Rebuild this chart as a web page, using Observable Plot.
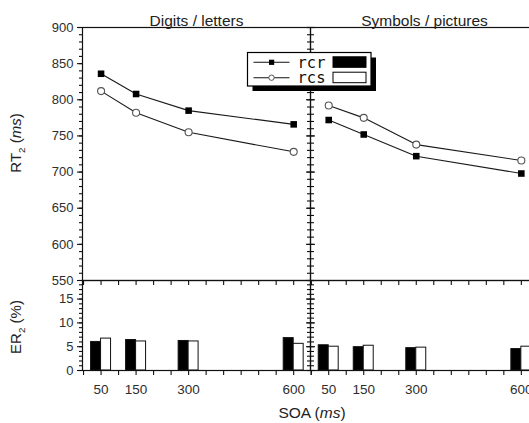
<!DOCTYPE html>
<html><head><meta charset="utf-8">
<script src="https://cdn.jsdelivr.net/npm/d3@7"></script>
<script src="https://cdn.jsdelivr.net/npm/@observablehq/plot@0.6"></script>
<style>
html,body{margin:0;padding:0;background:#fff;overflow:hidden;}
#chart{position:relative;width:529px;height:423px;overflow:hidden;background:#fff;}
</style></head><body><div id="chart"></div>
<script>
// ---- data ----
const panels = ["Digits / letters", "Symbols / pictures"];
const conditions = ["rcr", "rcs"];
const soa = [50, 150, 300, 600];
const rtDigitsRcr = [836, 808, 785, 766];
const rtDigitsRcs = [812, 782, 755, 728];
const rtSymbolsRcr = [772, 752, 722, 698];
const rtSymbolsRcs = [792, 775, 738, 716];
const erDigitsRcr = [6.0, 6.4, 6.2, 6.8];
const erDigitsRcs = [6.7, 6.1, 6.1, 5.6];
const erSymbolsRcr = [5.3, 4.9, 4.7, 4.5];
const erSymbolsRcs = [5.0, 5.2, 4.8, 5.0];
const rtTicks = [550, 600, 650, 700, 750, 800, 850, 900];
const erTicks = [0, 5, 10, 15];
const soaTicks = [50, 150, 300, 600];

// ---- layout / style ----
const chart = document.getElementById("chart");
const FONT = "'Liberation Sans', Arial, Helvetica, sans-serif";
const PANEL_W = 228;
const xDomains = [[-3, 648], [-2, 649]];
const barMs = 28.5;
const rtMinor = d3.range(550, 901, 10);
const erMinor = d3.range(0, 19, 1);
const xMinor = d3.range(0, 651, 50);
const INK = "#111";
const LABEL = "#2e2e2e";

function rowsFor(i) {
  const rtR = i === 0 ? rtDigitsRcr : rtSymbolsRcr;
  const rtS = i === 0 ? rtDigitsRcs : rtSymbolsRcs;
  const erR = i === 0 ? erDigitsRcr : erSymbolsRcr;
  const erS = i === 0 ? erDigitsRcs : erSymbolsRcs;
  return soa.flatMap((s, j) => [
    {soa: s, cond: conditions[0], rt: rtR[j], er: erR[j]},
    {soa: s, cond: conditions[1], rt: rtS[j], er: erS[j]}
  ]);
}
function place(svg, left, top) {
  svg.style.position = "absolute";
  svg.style.left = left + "px";
  svg.style.top = top + "px";
  svg.style.maxWidth = "none";
  chart.appendChild(svg);
}
const baseStyle = {background: "transparent", overflow: "visible", fontFamily: FONT, color: INK};

function yAxes(isLeft, major, minor) {
  const tick = (anchor, ticks, size) =>
    Plot.axisY({anchor, ticks, tickSize: size, label: null, stroke: INK, strokeWidth: 1.1, fill: "none"});
  return isLeft ? [
    Plot.axisY({anchor: "left", ticks: major, tickSize: 5, tickPadding: 4, fontSize: 13, label: null, stroke: INK, strokeWidth: 1.1, fill: LABEL}),
    tick("left", minor, 3),
    tick("right", major, 4),
    tick("right", minor, 3)
  ] : [
    tick("left", major, 4),
    tick("left", minor, 3)
  ];
}

panels.forEach((p, i) => {
  const isLeft = i === 0;
  const ml = isLeft ? 82 : 20, mr = isLeft ? 2 : 12;
  const width = ml + PANEL_W + mr;
  const left = isLeft ? 0 : 310 - ml;
  const rows = rowsFor(i);
  const rcr = rows.filter(d => d.cond === conditions[0]);
  const rcs = rows.filter(d => d.cond === conditions[1]);

  const topPlot = Plot.plot({
    width, height: 285,
    marginLeft: ml, marginRight: mr, marginTop: 27, marginBottom: 5,
    x: {domain: xDomains[i]},
    y: {domain: [550, 900]},
    style: baseStyle,
    marks: [
      Plot.frame({stroke: INK, strokeWidth: 1.2}),
      ...yAxes(isLeft, rtTicks, rtMinor),
      Plot.axisX({anchor: "bottom", ticks: xMinor, tickSize: 5, label: null, stroke: INK, strokeWidth: 1.1, fill: "none"}),
      Plot.lineY(rows, {x: "soa", y: "rt", z: "cond", stroke: "#1a1a1a", strokeWidth: 1.1}),
      Plot.dot(rcr, {x: "soa", y: "rt", symbol: "square", r: 3.7, fill: "#000", stroke: "none"}),
      Plot.dot(rcs, {x: "soa", y: "rt", symbol: "circle", r: 3.5, fill: "#fff", stroke: "#555", strokeWidth: 1.1}),
      Plot.text([p], {text: d => d, frameAnchor: "top", lineAnchor: "bottom", dy: -2, fontSize: 15.5, fill: "#222"})
    ]
  });
  place(topPlot, left, 0);

  const botPlot = Plot.plot({
    width, height: 148,
    marginLeft: ml, marginRight: mr, marginTop: 5, marginBottom: 53,
    x: {domain: xDomains[i]},
    y: {domain: [0, 18.9]},
    style: baseStyle,
    marks: [
      Plot.rectY(rcr, {x1: d => d.soa - barMs, x2: "soa", y1: 0, y2: "er", fill: "#000", stroke: INK, strokeWidth: 1}),
      Plot.rectY(rcs, {x1: "soa", x2: d => d.soa + barMs, y1: 0, y2: "er", fill: "#fff", stroke: INK, strokeWidth: 1}),
      Plot.frame({stroke: INK, strokeWidth: 1.2}),
      ...yAxes(isLeft, erTicks, erMinor),
      Plot.axisX({anchor: "bottom", ticks: xMinor, tickSize: 5, label: null, stroke: INK, strokeWidth: 1.1, fill: "none"}),
      Plot.axisX({anchor: "bottom", ticks: soaTicks, tickSize: 0, tickPadding: 14, fontSize: 13.5, label: null, fill: LABEL})
    ]
  });
  place(botPlot, left, 275);
});

// ---- overlay: axis titles and legend ----
const ov = d3.create("svg")
  .attr("width", 529).attr("height", 423)
  .style("position", "absolute").style("left", "0px").style("top", "0px")
  .style("overflow", "visible").style("font-family", FONT);

function axisTitle(g, main, sub, rest, italic, close, size) {
  const t = g.append("text").attr("text-anchor", "middle").attr("fill", "#222").attr("font-size", size);
  t.append("tspan").text(main);
  if (sub) t.append("tspan").attr("font-size", size * 0.65).attr("dy", 4).text(sub);
  t.append("tspan").attr("dy", sub ? -4 : 0).text(rest);
  if (italic) t.append("tspan").attr("font-style", "italic").text(italic);
  t.append("tspan").text(close);
  return t;
}
axisTitle(ov.append("g").attr("transform", "translate(21,143) rotate(-90)"), "RT", "2", " (", "ms", ")", 15);
axisTitle(ov.append("g").attr("transform", "translate(21,327) rotate(-90)"), "ER", "2", " (", "", "%)", 15);
axisTitle(ov.append("g").attr("transform", "translate(312,418)"), "SOA", "", " (", "ms", ")", 15.5);

const lg = ov.append("g").attr("transform", "translate(247.5,52.5)");
lg.append("rect").attr("x", 5).attr("y", 5).attr("width", 123.5).attr("height", 33.5).attr("fill", "#000");
lg.append("rect").attr("x", 0).attr("y", 0).attr("width", 123.5).attr("height", 33.5)
  .attr("fill", "#fff").attr("stroke", "#000").attr("stroke-width", 1.2);
conditions.forEach((c, k) => {
  const cy = 9.8 + k * 15.4;
  lg.append("line").attr("x1", 6).attr("x2", 42).attr("y1", cy).attr("y2", cy).attr("stroke", "#111").attr("stroke-width", 1.1);
  if (k === 0) lg.append("rect").attr("x", 21.5).attr("y", cy - 2.6).attr("width", 5.2).attr("height", 5.2).attr("fill", "#000");
  else lg.append("circle").attr("cx", 24).attr("cy", cy).attr("r", 2.7).attr("fill", "#fff").attr("stroke", "#555");
  lg.append("text").attr("x", 50).attr("y", cy).attr("dy", "0.36em")
    .attr("font-family", "'DejaVu Sans Mono', monospace").attr("font-size", 15.5).attr("fill", "#111").text(c);
  lg.append("rect").attr("x", 85.5).attr("y", cy - 5.5).attr("width", 33).attr("height", 10.5)
    .attr("fill", k === 0 ? "#000" : "#fff").attr("stroke", "#000").attr("stroke-width", 1);
});
chart.appendChild(ov.node());
</script></body></html>
